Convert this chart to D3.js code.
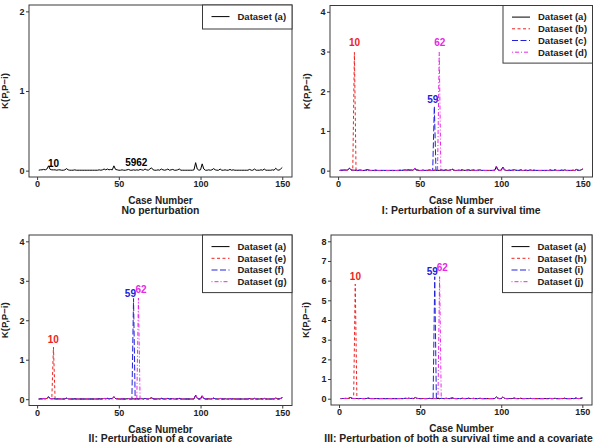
<!DOCTYPE html>
<html><head><meta charset="utf-8">
<script src="https://cdn.jsdelivr.net/npm/d3@7"></script>
<style>
body{margin:0;background:#fff}
svg{display:block}
text{font-family:"Liberation Sans",Arial,sans-serif;font-weight:bold}
</style>
</head><body>
<svg id="c" width="594" height="444"></svg>
<script>
// ---------- DATA ----------
const cases = d3.range(1, 151);           // case numbers 1..150
const xTicks = [0, 50, 100, 150];
const yTicksTop = [0, 1, 2];
const yTicks4 = [0, 1, 2, 3, 4];
const yTicks8 = [0, 1, 2, 3, 4, 5, 6, 7, 8];

const datasetA = [
0.005,0.01,0.01,0.015,0.01,0.02,0.06,0.015,0.01,0.01,
0.01,0.005,0.01,0.01,0.005,0.005,0.01,0.025,0.01,0.005,
0.005,0.005,0.01,0.005,0.005,0.005,0.005,0.005,0.005,0.005,
0.005,0.005,0.005,0.005,0.005,0.005,0.005,0.01,0.005,0.01,
0.02,0.01,0.02,0.01,0.015,0.01,0.06,0.015,0.01,0.005,
0.005,0.01,0.005,0.005,0.01,0.015,0.005,0.005,0.01,0.005,
0.01,0.005,0.015,0.01,0.005,0.02,0.01,0.005,0.02,0.035,
0.01,0.005,0.005,0.01,0.005,0.02,0.01,0.005,0.01,0.02,
0.005,0.01,0.015,0.005,0.005,0.01,0.02,0.005,0.005,0.005,
0.005,0.005,0.005,0.005,0.005,0.01,0.1,0.02,0.005,0.01,
0.085,0.02,0.005,0.005,0.01,0.005,0.01,0.025,0.01,0.005,
0.005,0.02,0.005,0.005,0.01,0.005,0.005,0.015,0.005,0.01,
0.005,0.005,0.005,0.005,0.005,0.005,0.005,0.005,0.005,0.015,
0.005,0.005,0.02,0.005,0.005,0.005,0.01,0.005,0.02,0.005,
0.005,0.005,0.005,0.01,0.005,0.03,0.01,0.005,0.02,0.04];

const datasetB = [
0.005,0.01,0.01,0.015,0.01,0.02,0.06,0.015,0.01,2.98,
0.01,0.005,0.01,0.01,0.005,0.005,0.01,0.025,0.01,0.005,
0.005,0.005,0.01,0.005,0.005,0.005,0.005,0.005,0.005,0.005,
0.005,0.005,0.005,0.005,0.005,0.005,0.005,0.01,0.005,0.01,
0.02,0.01,0.02,0.01,0.015,0.01,0.06,0.015,0.01,0.005,
0.005,0.01,0.005,0.005,0.01,0.015,0.005,0.005,0.01,0.005,
0.01,0.005,0.015,0.01,0.005,0.02,0.01,0.005,0.02,0.035,
0.01,0.005,0.005,0.01,0.005,0.02,0.01,0.005,0.01,0.02,
0.005,0.01,0.015,0.005,0.005,0.01,0.02,0.005,0.005,0.005,
0.005,0.005,0.005,0.005,0.005,0.01,0.1,0.02,0.005,0.01,
0.085,0.02,0.005,0.005,0.01,0.005,0.01,0.025,0.01,0.005,
0.005,0.02,0.005,0.005,0.01,0.005,0.005,0.015,0.005,0.01,
0.005,0.005,0.005,0.005,0.005,0.005,0.005,0.005,0.005,0.015,
0.005,0.005,0.02,0.005,0.005,0.005,0.01,0.005,0.02,0.005,
0.005,0.005,0.005,0.01,0.005,0.03,0.01,0.005,0.02,0.04];

const datasetC = [
0.005,0.01,0.01,0.015,0.01,0.02,0.06,0.015,0.01,0.01,
0.01,0.005,0.01,0.01,0.005,0.005,0.01,0.025,0.01,0.005,
0.005,0.005,0.01,0.005,0.005,0.005,0.005,0.005,0.005,0.005,
0.005,0.005,0.005,0.005,0.005,0.005,0.005,0.01,0.005,0.01,
0.02,0.01,0.02,0.01,0.015,0.01,0.06,0.015,0.01,0.005,
0.005,0.01,0.005,0.005,0.01,0.015,0.005,0.005,1.62,0.005,
0.01,0.005,0.015,0.01,0.005,0.02,0.01,0.005,0.02,0.035,
0.01,0.005,0.005,0.01,0.005,0.02,0.01,0.005,0.01,0.02,
0.005,0.01,0.015,0.005,0.005,0.01,0.02,0.005,0.005,0.005,
0.005,0.005,0.005,0.005,0.005,0.01,0.1,0.02,0.005,0.01,
0.085,0.02,0.005,0.005,0.01,0.005,0.01,0.025,0.01,0.005,
0.005,0.02,0.005,0.005,0.01,0.005,0.005,0.015,0.005,0.01,
0.005,0.005,0.005,0.005,0.005,0.005,0.005,0.005,0.005,0.015,
0.005,0.005,0.02,0.005,0.005,0.005,0.01,0.005,0.02,0.005,
0.005,0.005,0.005,0.01,0.005,0.03,0.01,0.005,0.02,0.04];

const datasetD = [
0.005,0.01,0.01,0.015,0.01,0.02,0.06,0.015,0.01,0.01,
0.01,0.005,0.01,0.01,0.005,0.005,0.01,0.025,0.01,0.005,
0.005,0.005,0.01,0.005,0.005,0.005,0.005,0.005,0.005,0.005,
0.005,0.005,0.005,0.005,0.005,0.005,0.005,0.01,0.005,0.01,
0.02,0.01,0.02,0.01,0.015,0.01,0.06,0.015,0.01,0.005,
0.005,0.01,0.005,0.005,0.01,0.015,0.005,0.005,0.01,0.005,
0.01,2.98,0.015,0.01,0.005,0.02,0.01,0.005,0.02,0.035,
0.01,0.005,0.005,0.01,0.005,0.02,0.01,0.005,0.01,0.02,
0.005,0.01,0.015,0.005,0.005,0.01,0.02,0.005,0.005,0.005,
0.005,0.005,0.005,0.005,0.005,0.01,0.1,0.02,0.005,0.01,
0.085,0.02,0.005,0.005,0.01,0.005,0.01,0.025,0.01,0.005,
0.005,0.02,0.005,0.005,0.01,0.005,0.005,0.015,0.005,0.01,
0.005,0.005,0.005,0.005,0.005,0.005,0.005,0.005,0.005,0.015,
0.005,0.005,0.02,0.005,0.005,0.005,0.01,0.005,0.02,0.005,
0.005,0.005,0.005,0.01,0.005,0.03,0.01,0.005,0.02,0.04];

const datasetE = [
0.005,0.01,0.01,0.015,0.01,0.02,0.06,0.015,0.01,1.32,
0.01,0.005,0.01,0.01,0.005,0.005,0.01,0.025,0.01,0.005,
0.005,0.005,0.01,0.005,0.005,0.005,0.005,0.005,0.005,0.005,
0.005,0.005,0.005,0.005,0.005,0.005,0.005,0.01,0.005,0.01,
0.02,0.01,0.02,0.01,0.015,0.01,0.06,0.015,0.01,0.005,
0.005,0.01,0.005,0.005,0.01,0.015,0.005,0.005,0.01,0.005,
0.01,0.005,0.015,0.01,0.005,0.02,0.01,0.005,0.02,0.035,
0.01,0.005,0.005,0.01,0.005,0.02,0.01,0.005,0.01,0.02,
0.005,0.01,0.015,0.005,0.005,0.01,0.02,0.005,0.005,0.005,
0.005,0.005,0.005,0.005,0.005,0.01,0.1,0.02,0.005,0.01,
0.085,0.02,0.005,0.005,0.01,0.005,0.01,0.025,0.01,0.005,
0.005,0.02,0.005,0.005,0.01,0.005,0.005,0.015,0.005,0.01,
0.005,0.005,0.005,0.005,0.005,0.005,0.005,0.005,0.005,0.015,
0.005,0.005,0.02,0.005,0.005,0.005,0.01,0.005,0.02,0.005,
0.005,0.005,0.005,0.01,0.005,0.03,0.01,0.005,0.02,0.04];

const datasetF = [
0.005,0.01,0.01,0.015,0.01,0.02,0.06,0.015,0.01,0.01,
0.01,0.005,0.01,0.01,0.005,0.005,0.01,0.025,0.01,0.005,
0.005,0.005,0.01,0.005,0.005,0.005,0.005,0.005,0.005,0.005,
0.005,0.005,0.005,0.005,0.005,0.005,0.005,0.01,0.005,0.01,
0.02,0.01,0.02,0.01,0.015,0.01,0.06,0.015,0.01,0.005,
0.005,0.01,0.005,0.005,0.01,0.015,0.005,0.005,2.55,0.005,
0.01,0.005,0.015,0.01,0.005,0.02,0.01,0.005,0.02,0.035,
0.01,0.005,0.005,0.01,0.005,0.02,0.01,0.005,0.01,0.02,
0.005,0.01,0.015,0.005,0.005,0.01,0.02,0.005,0.005,0.005,
0.005,0.005,0.005,0.005,0.005,0.01,0.1,0.02,0.005,0.01,
0.085,0.02,0.005,0.005,0.01,0.005,0.01,0.025,0.01,0.005,
0.005,0.02,0.005,0.005,0.01,0.005,0.005,0.015,0.005,0.01,
0.005,0.005,0.005,0.005,0.005,0.005,0.005,0.005,0.005,0.015,
0.005,0.005,0.02,0.005,0.005,0.005,0.01,0.005,0.02,0.005,
0.005,0.005,0.005,0.01,0.005,0.03,0.01,0.005,0.02,0.04];

const datasetG = [
0.005,0.01,0.01,0.015,0.01,0.02,0.06,0.015,0.01,0.01,
0.01,0.005,0.01,0.01,0.005,0.005,0.01,0.025,0.01,0.005,
0.005,0.005,0.01,0.005,0.005,0.005,0.005,0.005,0.005,0.005,
0.005,0.005,0.005,0.005,0.005,0.005,0.005,0.01,0.005,0.01,
0.02,0.01,0.02,0.01,0.015,0.01,0.06,0.015,0.01,0.005,
0.005,0.01,0.005,0.005,0.01,0.015,0.005,0.005,0.01,0.005,
0.01,2.56,0.015,0.01,0.005,0.02,0.01,0.005,0.02,0.035,
0.01,0.005,0.005,0.01,0.005,0.02,0.01,0.005,0.01,0.02,
0.005,0.01,0.015,0.005,0.005,0.01,0.02,0.005,0.005,0.005,
0.005,0.005,0.005,0.005,0.005,0.01,0.1,0.02,0.005,0.01,
0.085,0.02,0.005,0.005,0.01,0.005,0.01,0.025,0.01,0.005,
0.005,0.02,0.005,0.005,0.01,0.005,0.005,0.015,0.005,0.01,
0.005,0.005,0.005,0.005,0.005,0.005,0.005,0.005,0.005,0.015,
0.005,0.005,0.02,0.005,0.005,0.005,0.01,0.005,0.02,0.005,
0.005,0.005,0.005,0.01,0.005,0.03,0.01,0.005,0.02,0.04];

const datasetH = [
0.005,0.01,0.01,0.015,0.01,0.02,0.06,0.015,0.01,5.82,
0.01,0.005,0.01,0.01,0.005,0.005,0.01,0.025,0.01,0.005,
0.005,0.005,0.01,0.005,0.005,0.005,0.005,0.005,0.005,0.005,
0.005,0.005,0.005,0.005,0.005,0.005,0.005,0.01,0.005,0.01,
0.02,0.01,0.02,0.01,0.015,0.01,0.06,0.015,0.01,0.005,
0.005,0.01,0.005,0.005,0.01,0.015,0.005,0.005,0.01,0.005,
0.01,0.005,0.015,0.01,0.005,0.02,0.01,0.005,0.02,0.035,
0.01,0.005,0.005,0.01,0.005,0.02,0.01,0.005,0.01,0.02,
0.005,0.01,0.015,0.005,0.005,0.01,0.02,0.005,0.005,0.005,
0.005,0.005,0.005,0.005,0.005,0.01,0.1,0.02,0.005,0.01,
0.085,0.02,0.005,0.005,0.01,0.005,0.01,0.025,0.01,0.005,
0.005,0.02,0.005,0.005,0.01,0.005,0.005,0.015,0.005,0.01,
0.005,0.005,0.005,0.005,0.005,0.005,0.005,0.005,0.005,0.015,
0.005,0.005,0.02,0.005,0.005,0.005,0.01,0.005,0.02,0.005,
0.005,0.005,0.005,0.01,0.005,0.03,0.01,0.005,0.02,0.04];

const datasetI = [
0.005,0.01,0.01,0.015,0.01,0.02,0.06,0.015,0.01,0.01,
0.01,0.005,0.01,0.01,0.005,0.005,0.01,0.025,0.01,0.005,
0.005,0.005,0.01,0.005,0.005,0.005,0.005,0.005,0.005,0.005,
0.005,0.005,0.005,0.005,0.005,0.005,0.005,0.01,0.005,0.01,
0.02,0.01,0.02,0.01,0.015,0.01,0.06,0.015,0.01,0.005,
0.005,0.01,0.005,0.005,0.01,0.015,0.005,0.005,6.2,0.005,
0.01,0.005,0.015,0.01,0.005,0.02,0.01,0.005,0.02,0.035,
0.01,0.005,0.005,0.01,0.005,0.02,0.01,0.005,0.01,0.02,
0.005,0.01,0.015,0.005,0.005,0.01,0.02,0.005,0.005,0.005,
0.005,0.005,0.005,0.005,0.005,0.01,0.1,0.02,0.005,0.01,
0.085,0.02,0.005,0.005,0.01,0.005,0.01,0.025,0.01,0.005,
0.005,0.02,0.005,0.005,0.01,0.005,0.005,0.015,0.005,0.01,
0.005,0.005,0.005,0.005,0.005,0.005,0.005,0.005,0.005,0.015,
0.005,0.005,0.02,0.005,0.005,0.005,0.01,0.005,0.02,0.005,
0.005,0.005,0.005,0.01,0.005,0.03,0.01,0.005,0.02,0.04];

const datasetJ = [
0.005,0.01,0.01,0.015,0.01,0.02,0.06,0.015,0.01,0.01,
0.01,0.005,0.01,0.01,0.005,0.005,0.01,0.025,0.01,0.005,
0.005,0.005,0.01,0.005,0.005,0.005,0.005,0.005,0.005,0.005,
0.005,0.005,0.005,0.005,0.005,0.005,0.005,0.01,0.005,0.01,
0.02,0.01,0.02,0.01,0.015,0.01,0.06,0.015,0.01,0.005,
0.005,0.01,0.005,0.005,0.01,0.015,0.005,0.005,0.01,0.005,
0.01,6.2,0.015,0.01,0.005,0.02,0.01,0.005,0.02,0.035,
0.01,0.005,0.005,0.01,0.005,0.02,0.01,0.005,0.01,0.02,
0.005,0.01,0.015,0.005,0.005,0.01,0.02,0.005,0.005,0.005,
0.005,0.005,0.005,0.005,0.005,0.01,0.1,0.02,0.005,0.01,
0.085,0.02,0.005,0.005,0.01,0.005,0.01,0.025,0.01,0.005,
0.005,0.02,0.005,0.005,0.01,0.005,0.005,0.015,0.005,0.01,
0.005,0.005,0.005,0.005,0.005,0.005,0.005,0.005,0.005,0.015,
0.005,0.005,0.02,0.005,0.005,0.005,0.01,0.005,0.02,0.005,
0.005,0.005,0.005,0.01,0.005,0.03,0.01,0.005,0.02,0.04];

const datasetNames = {
  a: "Dataset (a)", b: "Dataset (b)", c: "Dataset (c)", d: "Dataset (d)",
  e: "Dataset (e)", f: "Dataset (f)", g: "Dataset (g)",
  h: "Dataset (h)", i: "Dataset (i)", j: "Dataset (j)"
};
const xTitles = ["Case Number", "Case Number", "Case Numebr", "Case Number"];
const subtitles = ["No perturbation", "I: Perturbation of a survival time",
  "II: Perturbation of a covariate", "III: Perturbation of both a survival time and a covariate"];
const yTitle = "K(P,P\u2212i)";

// ---------- STYLE / LAYOUT ----------
const seriesData = {a:datasetA,b:datasetB,c:datasetC,d:datasetD,e:datasetE,f:datasetF,g:datasetG,h:datasetH,i:datasetI,j:datasetJ};
const RED = "#ee2222", BLUE = "#2222dd", MAG = "#e628e6";
const seriesStyle = {
  a:{color:"#000", dash:null},
  b:{color:RED, dash:"3,2.5"}, e:{color:RED, dash:"3,2.5"}, h:{color:RED, dash:"3,2.5"},
  c:{color:BLUE, dash:"6,2.5"}, f:{color:BLUE, dash:"6,2.5"}, i:{color:BLUE, dash:"6,2.5"},
  d:{color:MAG, dash:"1,2,4,2"}, g:{color:MAG, dash:"1,2,4,2"}, j:{color:MAG, dash:"1,2,4,2"}
};

const panels = [
  {box:{l:29,t:5,r:292,b:177}, yMax:2, yTicks:yTicksTop, keys:["a"], ylabX:5,
   notes:[{t:"10",x:10,y:0.096,c:"#000"},{t:"59",x:57.3,y:0.1,c:"#000"},{t:"62",x:64,y:0.1,c:"#000"}]},
  {box:{l:330,t:5.5,r:592.5,b:177}, yMax:4, yTicks:yTicks4, keys:["a","b","c","d"], ylabX:307,
   notes:[{t:"10",x:10.1,y:3.22,c:RED},{t:"59",x:58.1,y:1.79,c:BLUE},{t:"62",x:62.3,y:3.22,c:MAG}]},
  {box:{l:29,t:235,r:292,b:405.5}, yMax:4, yTicks:yTicks4, keys:["a","e","f","g"], ylabX:5,
   notes:[{t:"10",x:9.9,y:1.51,c:RED},{t:"59",x:57.1,y:2.69,c:BLUE},{t:"62",x:63.6,y:2.79,c:MAG}]},
  {box:{l:331,t:235,r:592,b:405}, yMax:8, yTicks:yTicks8, keys:["a","h","i","j"], ylabX:305.5,
   notes:[{t:"10",x:10.1,y:6.21,c:RED},{t:"59",x:57.5,y:6.48,c:BLUE},{t:"62",x:63.6,y:6.65,c:MAG}]}
];

const svg = d3.select("#c");
svg.append("rect").attr("width",594).attr("height",444).attr("fill","#fff");
const defs = svg.append("defs");

panels.forEach((p, pi) => {
  const B = p.box;
  const x = d3.scaleLinear().domain([1 - 0.04*149, 150 + 0.04*149]).range([B.l, B.r]);
  const y = d3.scaleLinear().domain([-0.04*p.yMax, 1.04*p.yMax]).range([B.b, B.t]);
  const g = svg.append("g");

  defs.append("clipPath").attr("id","clip"+pi).append("rect")
    .attr("x",B.l).attr("y",B.t).attr("width",B.r-B.l).attr("height",B.b-B.t);

  const line = d3.line().x((d,k)=>x(cases[k])).y(d=>y(d));
  p.keys.forEach(k => {
    g.append("path").datum(seriesData[k])
      .attr("d", line).attr("fill","none")
      .attr("stroke", seriesStyle[k].color).attr("stroke-width",1)
      .attr("stroke-dasharray", seriesStyle[k].dash)
      .attr("clip-path","url(#clip"+pi+")");
  });

  // annotations
  p.notes.forEach(n => {
    g.append("text").attr("x", x(n.x)).attr("y", y(n.y)).attr("dy","0.36em")
      .attr("text-anchor","middle").attr("font-size",10).attr("fill",n.c).text(n.t);
  });

  // box
  g.append("rect").attr("x",B.l).attr("y",B.t).attr("width",B.r-B.l).attr("height",B.b-B.t)
    .attr("fill","none").attr("stroke","#3a3a3a").attr("stroke-width",1);

  // axes
  const xa = g.append("g").attr("transform",`translate(0,${B.b})`)
    .call(d3.axisBottom(x).tickValues(xTicks).tickSize(3).tickPadding(1).tickSizeOuter(0));
  xa.select(".domain").remove();
  xa.attr("font-family",null).attr("font-size",9);
  xa.selectAll("line").attr("stroke","#3a3a3a");
  xa.selectAll("text").attr("fill","#222");

  const ya = g.append("g").attr("transform",`translate(${B.l},0)`)
    .call(d3.axisLeft(y).tickValues(p.yTicks).tickFormat(d3.format("d")).tickSize(3).tickPadding(1.5).tickSizeOuter(0));
  ya.select(".domain").remove();
  ya.attr("font-family",null).attr("font-size",9);
  ya.selectAll("line").attr("stroke","#3a3a3a");
  ya.selectAll("text").attr("fill","#222");

  // titles
  const cx = (B.l + B.r)/2;
  g.append("text").attr("x",cx).attr("y",B.b+27).attr("text-anchor","middle")
    .attr("font-size",10).attr("fill","#222").text(xTitles[pi]);
  const sub = g.append("text").attr("x",cx).attr("y",B.b+36.8).attr("text-anchor","middle")
    .attr("font-size",10.4).attr("fill","#222").text(subtitles[pi]);
  // keep the subtitle inside the 594 px page
  const bb = sub.node().getBBox();
  if (bb.x + bb.width > 593) sub.attr("x", cx - (bb.x + bb.width - 593));
  g.append("text").attr("transform",`translate(${p.ylabX},${(B.t+B.b)/2}) rotate(-90)`)
    .attr("dy","0.35em").attr("text-anchor","middle").attr("font-size",9.6)
    .attr("fill","#222").text(yTitle);

  // legend
  const n = p.keys.length;
  const lw = 89.5, lh = 24 + 11.2*(n-1);
  const lx = B.r - lw, ly = B.t;
  const leg = g.append("g");
  leg.append("rect").attr("x",lx).attr("y",ly).attr("width",lw).attr("height",lh)
    .attr("fill","#fff").attr("stroke","#3a3a3a").attr("stroke-width",1);
  p.keys.forEach((k, i) => {
    const yy = ly + 11.6 + 11.7*i;
    leg.append("line").attr("x1",lx+9).attr("x2",lx+27).attr("y1",yy).attr("y2",yy)
      .attr("stroke",seriesStyle[k].color).attr("stroke-width",1)
      .attr("stroke-dasharray",seriesStyle[k].dash);
    leg.append("text").attr("x",lx+35).attr("y",yy).attr("dy","0.35em")
      .attr("font-size",9.5).attr("fill","#222").text(datasetNames[k]);
  });
});
</script>
</body></html>
